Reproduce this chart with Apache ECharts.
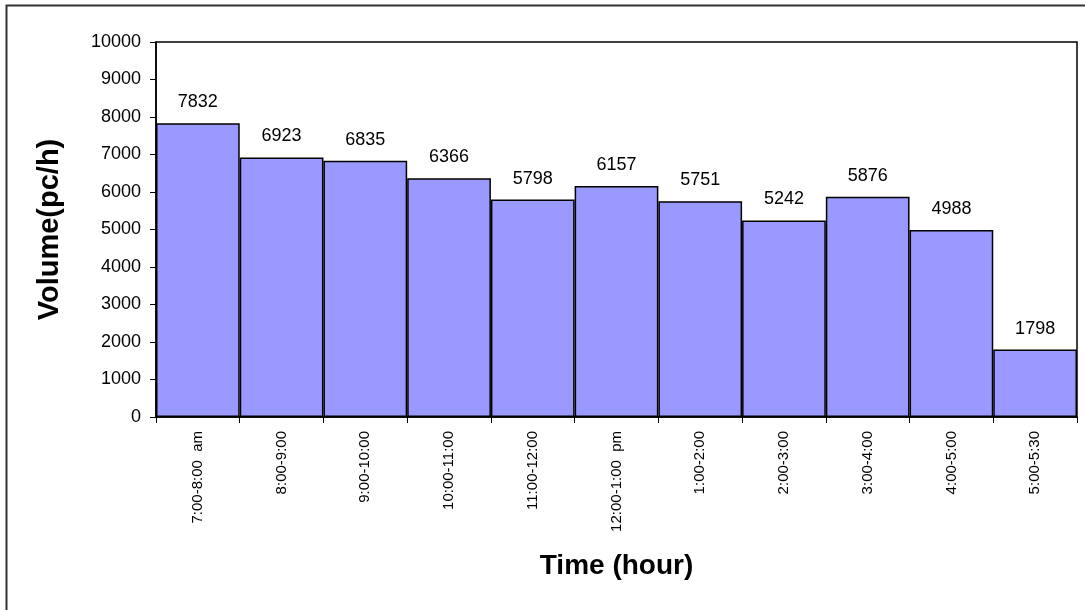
<!DOCTYPE html>
<html>
<head>
<meta charset="utf-8">
<script src="https://cdn.jsdelivr.net/npm/echarts@6/dist/echarts.min.js"></script>
<style>
  html, body { margin: 0; padding: 0; background: #fff; }
  #chart { width: 1085px; height: 610px; }
</style>
</head>
<body>
<div id="chart"></div>
<script>
// Hourly traffic volume counts
const timeSlots = ['7:00-8:00  am', '8:00-9:00', '9:00-10:00', '10:00-11:00', '11:00-12:00',
  '12:00-1:00  pm', '1:00-2:00', '2:00-3:00', '3:00-4:00', '4:00-5:00', '5:00-5:30'];
const volumes = [7832, 6923, 6835, 6366, 5798, 6157, 5751, 5242, 5876, 4988, 1798];
const yMin = 0, yMax = 10000, yStep = 1000;

const font = '"Liberation Sans", Arial, sans-serif';
const chart = echarts.init(document.getElementById('chart'), null, { renderer: 'canvas' });

chart.setOption({
  backgroundColor: '#fff',
  animation: false,
  graphic: [{
    type: 'rect',
    shape: { x: 6.5, y: 5.5, width: 1090, height: 620 },
    style: { fill: 'none', stroke: '#333', lineWidth: 2 },
    silent: true
  }],
  grid: {
    left: 156, top: 42, right: 8, bottom: 193,
    show: true, borderColor: '#000', borderWidth: 1.5, backgroundColor: 'transparent'
  },
  xAxis: {
    type: 'category',
    data: timeSlots,
    name: 'Time (hour)',
    nameLocation: 'middle',
    nameGap: 135,
    nameTextStyle: { fontFamily: font, fontSize: 28, fontWeight: 'bold', color: '#000' },
    axisLine: { lineStyle: { color: '#000', width: 1.5 } },
    axisTick: { show: true, alignWithLabel: false, length: 6, lineStyle: { color: '#000' } },
    axisLabel: { rotate: 90, fontFamily: font, fontSize: 15, color: '#000', margin: 14 }
  },
  yAxis: {
    type: 'value',
    min: yMin, max: yMax, interval: yStep,
    name: 'Volume(pc/h)',
    nameLocation: 'middle',
    nameGap: 92,
    nameTextStyle: { fontFamily: font, fontSize: 29, fontWeight: 'bold', color: '#000' },
    axisLine: { show: true, lineStyle: { color: '#000', width: 1.5 } },
    axisTick: { show: true, length: 6, lineStyle: { color: '#000' } },
    splitLine: { show: false },
    axisLabel: {
      fontFamily: font, fontSize: 18, color: '#000', margin: 15,
      formatter: v => String(v)
    }
  },
  series: [{
    type: 'bar',
    data: volumes,
    barWidth: '100%',
    barCategoryGap: 0,
    itemStyle: { color: '#9999FF', borderColor: '#000', borderWidth: 1.5 },
    label: {
      show: true, position: 'top', distance: 12,
      fontFamily: font, fontSize: 18, color: '#000'
    }
  }]
});
</script>
</body>
</html>
